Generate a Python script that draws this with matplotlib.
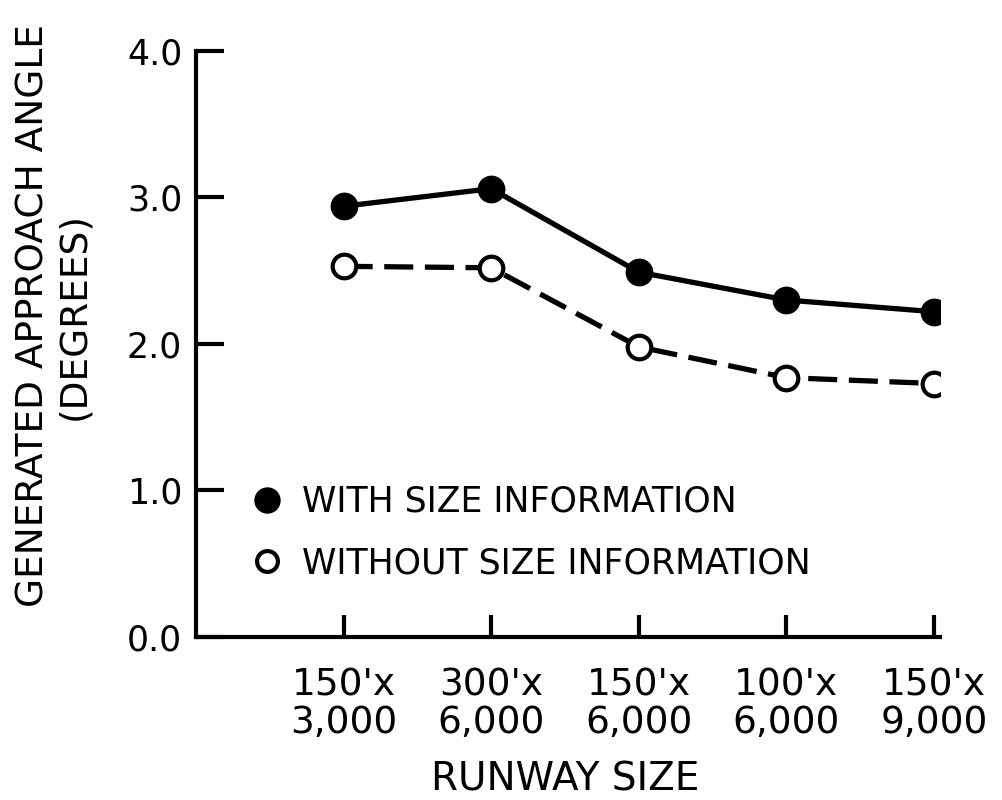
import matplotlib.pyplot as plt
from matplotlib.lines import Line2D

# runway sizes (width x length, ft)
runways = ["150'x\n3,000", "300'x\n6,000", "150'x\n6,000", "100'x\n6,000", "150'x\n9,000"]
with_size = [2.94, 3.06, 2.49, 2.30, 2.22]
without_size = [2.53, 2.52, 1.98, 1.77, 1.73]
y_ticks = [0.0, 1.0, 2.0, 3.0, 4.0]

plt.rcParams['font.family'] = 'DejaVu Sans'

fig = plt.figure(figsize=(10.02, 8), dpi=100)
ax = fig.add_axes([0.1956, 0.2038, 0.7425, 0.7325])

x = range(1, len(runways) + 1)
ax.plot(x, with_size, color='black', lw=3.8, marker='o', ms=19,
        mfc='black', mec='black', zorder=3)
ax.plot(x, without_size, color='black', lw=3.8, ls=(0, (5.5, 2.2)), marker='o', ms=17,
        mfc='white', mec='black', mew=3, zorder=3)

ax.set_xlim(0, 5.04)
ax.set_ylim(0, 4.0)
ax.set_xticks(list(x))
ax.set_xticklabels(runways, fontsize=27, linespacing=1.05)
ax.set_yticks(y_ticks)
ax.set_yticklabels(['%.1f' % v for v in y_ticks], fontsize=25)
ax.tick_params(axis='x', direction='in', length=16, width=3, pad=22)
ax.tick_params(axis='y', direction='in', length=20, width=3, pad=10)

for s in ['top', 'right']:
    ax.spines[s].set_visible(False)
for s in ['left', 'bottom']:
    ax.spines[s].set_linewidth(3)

ax.set_xlabel('RUNWAY SIZE', fontsize=28)
ax.xaxis.set_label_coords(0.496, -0.21)
ax.set_ylabel('GENERATED APPROACH ANGLE\n(DEGREES)', fontsize=27, linespacing=1.15)
ax.yaxis.set_label_coords(-0.14, 0.548)

handles = [
    Line2D([], [], ls='none', marker='o', ms=18, mfc='black', mec='black'),
    Line2D([], [], ls='none', marker='o', ms=15, mfc='white', mec='black', mew=3),
]
ax.legend(handles, ['WITH SIZE INFORMATION', 'WITHOUT SIZE INFORMATION'],
          loc='upper left', bbox_to_anchor=(0.03, 0.313), frameon=False,
          fontsize=25, labelspacing=0.8, handletextpad=0.5, handlelength=1.0)

plt.savefig('out.png', dpi=100)
